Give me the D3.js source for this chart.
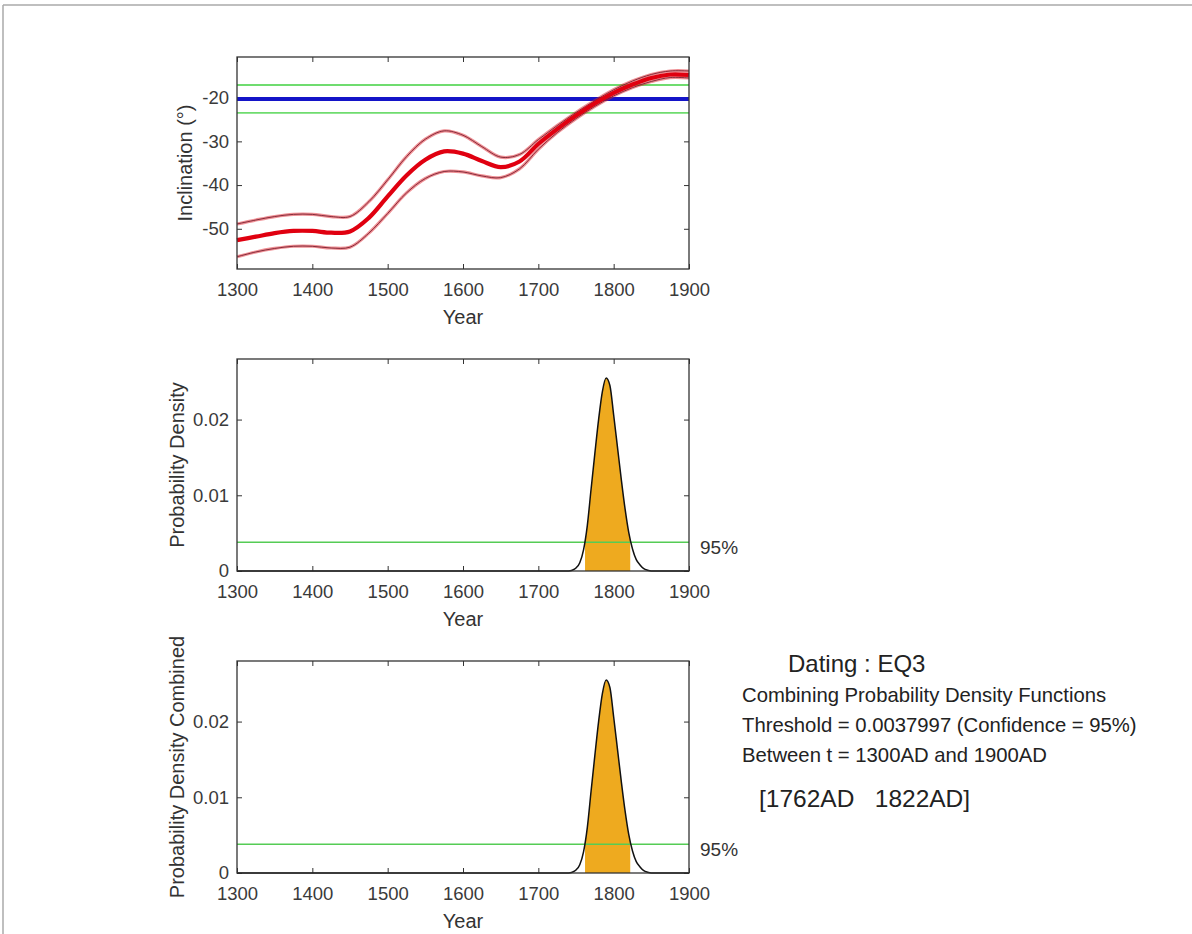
<!DOCTYPE html>
<html>
<head>
<meta charset="utf-8">
<script src="https://cdn.jsdelivr.net/npm/d3@7"></script>
<style>
body { margin: 0; background: #fff; }
svg text { font-family: "Liberation Sans", Arial, Helvetica, sans-serif; }
</style>
</head>
<body>
<svg></svg>
<script>
// inclination curve
const incYears = [1300,1325,1350,1375,1400,1425,1450,1475,1500,1525,1550,1575,1600,1625,1650,1675,1700,1725,1750,1775,1800,1825,1850,1875,1900];
const incMean  = [-52.6,-51.8,-51.0,-50.5,-50.5,-50.9,-50.6,-47.5,-42.6,-37.8,-34.2,-32.3,-32.8,-34.5,-35.9,-34.6,-30.6,-27.2,-24.1,-21.3,-18.9,-17.0,-15.5,-14.7,-14.8];
const incUpper = [-48.9,-48.0,-47.2,-46.7,-46.7,-47.2,-47.2,-43.8,-38.8,-33.5,-29.5,-27.6,-28.6,-31.2,-33.6,-33.0,-29.6,-26.4,-23.4,-20.7,-18.2,-16.2,-14.7,-13.9,-13.9];
const incLower = [-56.4,-55.3,-54.5,-54.0,-54.0,-54.4,-54.2,-51.0,-46.5,-41.8,-38.5,-36.9,-37.0,-37.9,-38.3,-36.3,-31.8,-28.0,-24.8,-22.0,-19.6,-17.7,-16.3,-15.4,-15.5];
const sampleInc = -20.3;
const sampleBand = [-17.1, -23.5];

// probability density
const pdfYears  = [1300,1740,1745,1750,1755,1760,1765,1770,1775,1780,1785,1790,1795,1800,1805,1810,1815,1820,1825,1830,1835,1840,1845,1850,1900];
const pdfValues = [0,0,0.0001,0.0004,0.0011,0.0028,0.0060,0.0108,0.0155,0.0200,0.0237,0.0255,0.0245,0.0206,0.0164,0.0122,0.0083,0.0051,0.0029,0.0015,0.0008,0.0003,0.0001,0,0];
const threshold = 0.0037997;
const interval = [1762, 1822];

const yearTicks = [1300,1400,1500,1600,1700,1800,1900];
const incTicks = [-50,-40,-30,-20];
const pdfTicks = [0,0.01,0.02];

const infoLines = ["Combining Probability Density Functions",
  "Threshold = 0.0037997 (Confidence = 95%)",
  "Between t = 1300AD and 1900AD"];

let svg = d3.select("svg").attr("width", 1192).attr("height", 934);

// page frame
svg.append("line").attr("x1", 3).attr("y1", 5).attr("x2", 1192).attr("y2", 5)
  .attr("stroke", "#aaa").attr("stroke-width", 1.5);
svg.append("line").attr("x1", 3).attr("y1", 5).attr("x2", 3).attr("y2", 934)
  .attr("stroke", "#aaa").attr("stroke-width", 1.5);

let panelW = 452, panelH = 212, left = 237;

function makePanel(top, ydomain, yticks, yfmt, ylabel, labelX) {
  let g = svg.append("g").attr("transform", "translate(" + left + "," + top + ")");
  let x = d3.scaleLinear().domain([1300, 1900]).range([0, panelW]);
  let y = d3.scaleLinear().domain(ydomain).range([panelH, 0]);

  g.append("g").attr("class", "axis")
    .attr("transform", "translate(0," + panelH + ")")
    .call(d3.axisBottom(x).tickValues(yearTicks).tickFormat(function(d) { return String(d); })
      .tickSizeInner(-5).tickSizeOuter(0).tickPadding(14));
  g.append("g").attr("class", "axis")
    .call(d3.axisTop(x).tickValues(yearTicks).tickFormat("").tickSizeInner(-5).tickSizeOuter(0));
  g.append("g").attr("class", "axis")
    .call(d3.axisLeft(y).tickValues(yticks).tickFormat(yfmt)
      .tickSizeInner(-5).tickSizeOuter(0).tickPadding(8));
  g.append("g").attr("class", "axis")
    .attr("transform", "translate(" + panelW + ",0)")
    .call(d3.axisRight(y).tickValues(yticks).tickFormat("").tickSizeInner(-5).tickSizeOuter(0));
  g.selectAll(".axis .domain").remove();
  g.selectAll(".axis line").attr("stroke", "#333");
  g.selectAll(".axis text").attr("fill", "#3a3a3a").style("font-size", "18.5px");

  g.append("text")
    .attr("text-anchor", "middle")
    .attr("x", panelW / 2)
    .attr("y", panelH + 48)
    .attr("dy", "0.35em")
    .attr("fill", "#333")
    .style("font-size", "20px")
    .text("Year");
  g.append("text")
    .attr("text-anchor", "middle")
    .attr("transform", "translate(" + (labelX - left) + "," + panelH / 2 + ")rotate(-90)")
    .attr("dy", "0.35em")
    .attr("fill", "#333")
    .style("font-size", "20px")
    .text(ylabel);

  return {g: g, x: x, y: y};
}

function drawBox(p) {
  p.g.append("rect").attr("width", panelW).attr("height", panelH)
    .attr("fill", "none").attr("stroke", "#333").attr("stroke-width", 1.3);
}

// ---- top panel: inclination
let p1 = makePanel(57, [-59.2, -10.7], incTicks, function(d) { return String(d); }, "Inclination (\u00b0)", 185);
sampleBand.forEach(function(v) {
  p1.g.append("line").attr("x1", 0).attr("x2", panelW)
    .attr("y1", p1.y(v)).attr("y2", p1.y(v))
    .attr("stroke", "#6fdc6f").attr("stroke-width", 1.8);
});
p1.g.append("line").attr("x1", 0).attr("x2", panelW)
  .attr("y1", p1.y(sampleInc)).attr("y2", p1.y(sampleInc))
  .attr("stroke", "#1414c8").attr("stroke-width", 4);

let incLine = d3.line()
  .x(function(d) { return p1.x(d[0]); })
  .y(function(d) { return p1.y(d[1]); })
  .curve(d3.curveCatmullRom);
[incUpper, incLower].forEach(function(arr) {
  p1.g.append("path").datum(d3.zip(incYears, arr))
    .attr("d", incLine).attr("fill", "none")
    .attr("stroke", "#e0202a").attr("stroke-width", 3.2).attr("stroke-opacity", 0.5);
  p1.g.append("path").datum(d3.zip(incYears, arr))
    .attr("d", incLine).attr("fill", "none")
    .attr("stroke", "#7a2030").attr("stroke-width", 0.9);
});
p1.g.append("path").datum(d3.zip(incYears, incMean))
  .attr("d", incLine).attr("fill", "none")
  .attr("stroke", "#e00010").attr("stroke-width", 4.2);
drawBox(p1);

// ---- density panels
function densityPanel(top, ylabel, id) {
  let p = makePanel(top, [0, 0.028], pdfTicks, function(d) { return d === 0 ? "0" : d3.format(".2f")(d); }, ylabel, 177);
  let pts = d3.zip(pdfYears, pdfValues);
  p.g.append("clipPath").attr("id", id)
    .append("rect")
    .attr("x", p.x(interval[0])).attr("width", p.x(interval[1]) - p.x(interval[0]))
    .attr("y", 0).attr("height", panelH);
  p.g.append("path").datum(pts)
    .attr("clip-path", "url(#" + id + ")")
    .attr("d", d3.area()
      .x(function(d) { return p.x(d[0]); })
      .y0(p.y(0))
      .y1(function(d) { return p.y(d[1]); })
      .curve(d3.curveMonotoneX))
    .attr("fill", "#eeaa1f");
  p.g.append("line").attr("x1", 0).attr("x2", panelW)
    .attr("y1", p.y(threshold)).attr("y2", p.y(threshold))
    .attr("stroke", "#55cc55").attr("stroke-width", 1.6);
  p.g.append("path").datum(pts)
    .attr("d", d3.line()
      .x(function(d) { return p.x(d[0]); })
      .y(function(d) { return p.y(d[1]); })
      .curve(d3.curveMonotoneX))
    .attr("fill", "none").attr("stroke", "#111").attr("stroke-width", 1.5);
  drawBox(p);
  p.g.append("text")
    .attr("x", panelW + 11).attr("y", p.y(threshold) + 5)
    .attr("dy", "0.35em")
    .attr("fill", "#333")
    .style("font-size", "19px")
    .text("95%");
  return p;
}

densityPanel(359, "Probability Density", "clipA");
densityPanel(661, "Probability Density Combined", "clipB");

// ---- info text
svg.append("text").attr("x", 788).attr("y", 672)
  .attr("fill", "#222").style("font-size", "24px").text("Dating : EQ3");
infoLines.forEach(function(s, i) {
  svg.append("text").attr("x", 742).attr("y", 702 + i * 30)
    .attr("fill", "#222").style("font-size", "20.3px").text(s);
});
svg.append("text").attr("x", 759).attr("y", 807)
  .attr("fill", "#222").style("font-size", "24.5px").style("white-space", "pre")
  .attr("xml:space", "preserve")
  .text("[" + interval[0] + "AD   " + interval[1] + "AD]");
</script>
</body>
</html>
